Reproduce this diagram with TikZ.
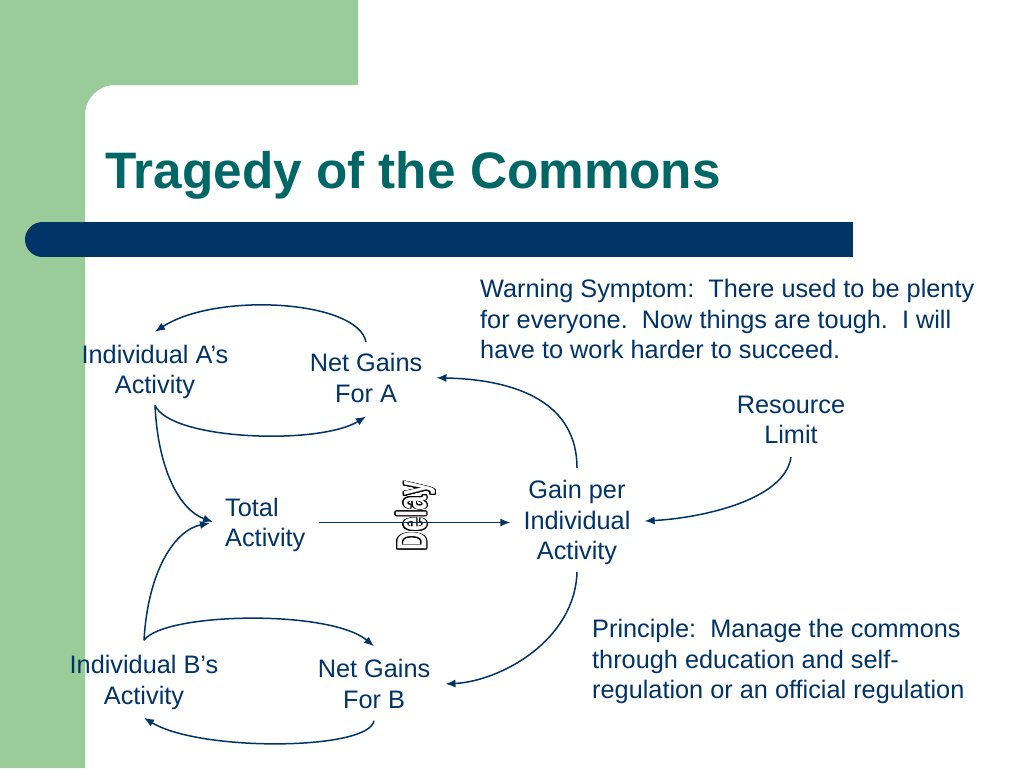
\documentclass[tikz,border=0pt]{standalone}
\usepackage{fontspec}
\setmainfont{Liberation Sans}
\usepackage{graphicx}
\usepackage[copies]{contour}
\usetikzlibrary{arrows.meta}
\definecolor{navy}{RGB}{0,51,102}
\definecolor{titleteal}{RGB}{0,102,102}
\definecolor{sagegreen}{RGB}{153,204,153}
\contourlength{1.2pt}
\tikzset{
	x=1pt, y=-1pt,
	>={Latex[length=10pt,width=8pt]},
	link/.style={->, navy, line width=1.5pt},
	var/.style={text=navy, font=\fontsize{25.3pt}{30.5pt}\selectfont, align=center, inner sep=0pt},
	note/.style={var, align=left, anchor=north west},
	delay/.style={text=white, font=\fontsize{42pt}{43pt}\selectfont\bfseries, rotate=90, inner sep=0pt}}

\begin{document}
\begin{tikzpicture}
		\useasboundingbox (0,0) rectangle (1024,768);
		\fill[white] (0,0) rectangle (1024,768);
		\fill[sagegreen] (0,0) -- (358,0) -- (358,85) -- (115,85) .. controls (98.4,85) and (85,98.4) .. (85,115) -- (85,768) -- (0,768) -- cycle;
		\fill[navy] (42.5,222) rectangle (853,257);
		\fill[navy] (42.5,239.5) circle[radius=17.5pt];
		\node[anchor=base west, inner sep=0pt, text=titleteal, font=\fontsize{51.3pt}{55pt}\selectfont\bfseries] (title) at (105,188) {Tragedy of the Commons};

		\node[var] (ia) at (155,372) {Individual A’s\\Activity};
		\node[var] (nga) at (366,377.75) {Net Gains\\For A};
		\node[var, anchor=west, align=left] (ta) at (225,525) {Total\\Activity};
		\node[var] (gpi) at (577,522.5) {Gain per\\Individual\\Activity};
		\node[var] (rl) at (791,419.75) {Resource\\Limit};
		\node[var] (ib) at (144,682.5) {Individual B’s\\Activity};
		\node[var] (ngb) at (374,684) {Net Gains\\For B};
		\node[note] (warn) at (480,279) {Warning Symptom:\ \ There used to be plenty\\for everyone.\ \ Now things are tough.\ \ I will\\have to work harder to succeed.};
		\node[note] (princ) at (592,619) {Principle:\ \ Manage the commons\\through education and self-\\regulation or an official regulation};
		\node[delay] (dl) at (416,516) {\scalebox{0.62}[1]{\contour{black}{Delay}}};

		\draw[link] ([yshift=11pt]nga.north) .. controls +(-8,-42) and +(61,-40) .. ([yshift=13pt]ia.north);
		\draw[link] ([yshift=-6pt]ia.south) .. controls +(15,35) and +(-47,29) .. ([yshift=-14pt]nga.south);
		\draw[link] ([yshift=-6pt]ia.south) .. controls +(3,65) and +(-33,-12) .. ([xshift=-12pt,yshift=3pt]ta.west);
		\draw[link] ([yshift=15pt]ib.north) .. controls +(4,-70) and +(-35,7) .. ([xshift=-15pt,yshift=2pt]ta.west);
		\draw[link] ([yshift=15pt]ib.north) .. controls +(20,-28) and +(-44,-37) .. ([yshift=13pt]ngb.north);
		\draw[link] ([yshift=-12pt]ngb.south) .. controls +(-5,30) and +(55,34) .. ([yshift=-8pt]ib.south);
		\draw[link] ([yshift=12pt]gpi.north) .. controls +(0,-63) and +(85,2) .. ([xshift=14pt]nga.east);
		\draw[link] ([yshift=-13pt]rl.south) .. controls +(-6,43) and +(57,-3) .. ([xshift=14pt,yshift=1.5pt]gpi.east);
		\draw[link] ([yshift=-7pt]gpi.south) .. controls +(-2,68) and +(56,-3) .. ([xshift=15pt]ngb.east);
		\draw[link, shorten <=13pt, shorten >=13pt] (ta.east |- gpi.west) -- (gpi.west);
	\end{tikzpicture}
\end{document}
